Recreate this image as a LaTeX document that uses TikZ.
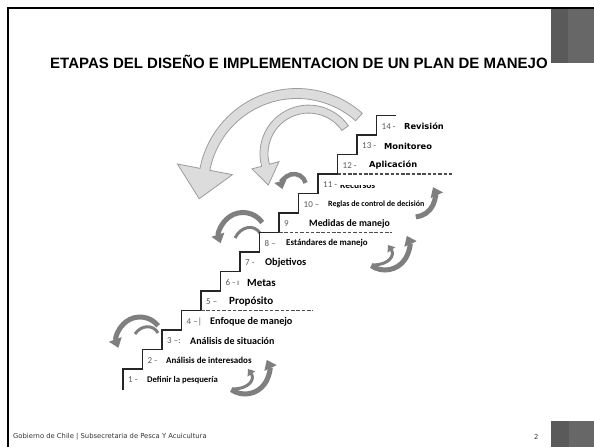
\documentclass[tikz,border=0pt]{standalone}
\usepackage{fontspec}
\setmainfont{Liberation Sans}
\newfontfamily\stepfont{Carlito}
\newfontfamily\slidefont{DejaVu Sans}
\usetikzlibrary{arrows.meta}
\usetikzlibrary{calc}

\definecolor{boxdark}{HTML}{5A5A5A}
\definecolor{boxlight}{HTML}{676767}
\definecolor{turngray}{HTML}{7F7F7F}
\definecolor{backfill}{HTML}{DCDCDC}
\definecolor{backline}{HTML}{9C9C9C}

\begin{document}
\begin{tikzpicture}[x=1pt, y=1pt,
    stair/.style={line width=1.4pt, black!85},
    cutline/.style={line width=1.1pt, black!70, dash pattern=on 3.5pt off 1.8pt},
    numlbl/.style={anchor=west, inner sep=0pt, text=black!65, font=\stepfont\fontsize{9}{9}\selectfont},
    steplbl/.style={anchor=west, inner sep=0pt},
    turn/.style={line width=5pt, turngray, -{Triangle[width=13pt,length=9pt]}},
    turnin/.style={line width=3pt, turngray},
    backarrow/.style={fill=backfill, draw=backline, line width=0.8pt}]

    \useasboundingbox (0,0) rectangle (594,447);

    % Slide frame
    \draw[line width=2.5pt] (8,0) -- (8,439) -- (594,439);
    \fill[boxdark]  (551,384) rectangle (568,437.5);
    \fill[boxlight] (568,384) rectangle (594,437.5);
    \fill[boxdark]  (551,0) rectangle (569,26);
    \fill[boxlight] (569,0) rectangle (594,26);

    \node[font=\bfseries\fontsize{15}{15}\selectfont] (title) at (299,385)
        {ETAPAS DEL DISEÑO E IMPLEMENTACION DE UN PLAN DE MANEJO};
    \node[anchor=west, inner sep=0pt, text=black!80, font=\slidefont\fontsize{6.8}{6.8}\selectfont] (footer) at (13,10)
        {Gobierno de Chile | Subsecretaria de Pesca Y Acuicultura};
    \node[anchor=west, inner sep=0pt, text=black!80, font=\slidefont\fontsize{6.8}{6.8}\selectfont] (page) at (534,10) {2};

    % Return arrows back down the stairs
    \coordinate (bigc) at (296.9,259.8);
    \draw[backarrow] ($(bigc)+(48.5:98.7)$) arc[start angle=48.5, end angle=169, radius=98.7]
        -- ($(bigc)+(169:121.7)$) -- ($(bigc)+(169:93.7)+(259:30)$) -- ($(bigc)+(169:65.7)$)
        -- ($(bigc)+(169:88.7)$) arc[start angle=169, end angle=48.5, radius=88.7] -- cycle;

    \coordinate (smallc) at (308.6,293.3);
    \draw[backarrow] ($(smallc)+(35:48.6)$) arc[start angle=35, end angle=195, radius=48.6]
        -- ($(smallc)+(195:58.6)$) -- ($(smallc)+(195:44.6)+(278:20)$) -- ($(smallc)+(195:30.6)$)
        -- ($(smallc)+(195:40.6)$) arc[start angle=195, end angle=35, radius=40.6] -- cycle;

    % Turn arrows (left side, going back)
    \draw[turn, line width=4.5pt, -{Triangle[width=12pt,length=8pt]}] (294,261) ++(15:12) arc[start angle=15, end angle=195, radius=12];
    \draw[turn] (243,211) ++(35:23.5) arc[start angle=35, end angle=198, radius=23.5];
    \draw[turnin] (260,214) .. controls (254,223) and (241,221) .. (235,209);
    \draw[turn] (140,107) ++(38:23) arc[start angle=38, end angle=200, radius=23];
    \draw[turnin] (158,114) .. controls (153,123) and (141,122) .. (135,113);

    % Turn arrows (right side, going up)
    \foreach \dx/\dy in {0/0, 140/124}{
      \begin{scope}[shift={(\dx,\dy)}]
        \draw[turn] (245,77) ++(235:24) arc[start angle=235, end angle=385, radius=24];
        \draw[turnin, -{Triangle[width=9pt,length=6pt]}] (232,58) .. controls (250,58) and (255,68) .. (248,78);
      \end{scope}
    }
    \draw[turn] (414,251) ++(275:21) arc[start angle=275, end angle=385, radius=21];

    % Staircase
    \draw[stair] (123,57) -- ++(0,21) \foreach \i in {1,...,13}{ -- ++(19.5,0) -- ++(0,19.5)} -- ++(19.5,0);

    % Phase limits
    \draw[cutline] (201,136.5) -- (313,136.5);
    \draw[cutline] (279,214.5) -- (392,214.5);
    \draw[cutline] (337.5,273) -- (452,273);

    % Step numbers
    \foreach \i/\num in {1/{1 -}, 2/{2 -}, 3/{3 –:}, 4/{4 –|}, 5/{5 –}, 6/{6 - ı}, 7/{7 -},
                         8/{8 –}, 9/{9}, 10/{10 –}, 11/{11 -}, 12/{12 -}, 13/{13 -}, 14/{14 -}}
      \node[numlbl] (n\i) at ({128+19.5*(\i-1)}, {47.5+19.5*\i}) {\num};

    % Step names
    \foreach \i/\tx/\sz/\txt in {1/147/8.7/{Definir la pesquería}, 2/166/9/{Análisis de interesados},
                                 3/190/10/{Análisis de situación}, 4/210/10.2/{Enfoque de manejo},
                                 5/229/11/{Propósito}, 6/247/11/{Metas}, 7/265/10.4/{Objetivos},
                                 8/286/8.9/{Estándares de manejo}, 9/309/9.8/{Medidas de manejo},
                                 10/328/8/{Reglas de control de decisión}}
      \node[steplbl, font=\stepfont\bfseries\fontsize{\sz}{\sz}\selectfont] (s\i) at (\tx, {47.5+19.5*\i}) {\txt};

    \begin{scope}
      \clip (330,250) rectangle (400,261);
      \node[steplbl, font=\stepfont\bfseries\fontsize{9.5}{9.5}\selectfont] (s11) at (340,262) {Recursos};
    \end{scope}

    \foreach \i/\tx/\txt in {12/369/{Aplicación}, 13/384/{Monitoreo}, 14/404/{Revisión}}
      \node[steplbl, font=\slidefont\bfseries\fontsize{8.3}{8.3}\selectfont] (s\i) at (\tx, {47.5+19.5*\i}) {\txt};

\end{tikzpicture}
\end{document}
